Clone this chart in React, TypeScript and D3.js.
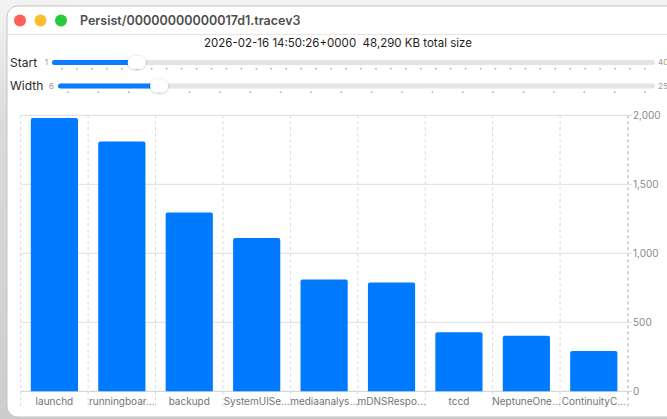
import React from "react";
import * as d3 from "d3";

const categories = [
  "launchd",
  "runningboar…",
  "backupd",
  "SystemUISe…",
  "mediaanalys…",
  "mDNSRespo…",
  "tccd",
  "NeptuneOne…",
  "ContinuityC…",
];
const sizes = [1980, 1810, 1295, 1110, 810, 788, 427, 402, 292];
const yTicks = [0, 500, 1000, 1500, 2000];

const windowTitle = "Persist/00000000000017d1.tracev3";
const subtitle = "2026-02-16 14:50:26+0000  48,290 KB total size";
const startRange = [1, 40];
const widthRange = [6, 25];
const startValue = 6;
const widthValue = 9;

const W = 667;
const H = 419;
const FONT = "Inter, 'Noto Sans', sans-serif";

function Slider({ label, y, domain, value }: { label: string; y: number; domain: number[]; value: number }) {
  const trackX0 = label === "Start" ? 52 : 58;
  const trackX1 = 655;
  const s = d3.scaleLinear().domain(domain).range([trackX0 + 10, trackX1 - 10]);
  const ticks = d3.range(domain[0], domain[1] + 1);
  const kx = s(value);
  return (
    <g>
      <text x={10} y={y} dy="0.35em" fontSize={12} fill="#2a2a2a">{label}</text>
      <text x={trackX0 - 4} y={y} dy="0.35em" fontSize={8} fill="#9a9a9a" textAnchor="end">{domain[0]}</text>
      <text x={trackX1 + 3} y={y} dy="0.35em" fontSize={8} fill="#9a9a9a">{domain[1]}</text>
      <rect x={trackX0} y={y - 2.5} width={trackX1 - trackX0} height={5} rx={2.5} fill="#e4e4e4" />
      <rect x={trackX0} y={y - 2.5} width={kx - trackX0} height={5} rx={2.5} fill="#0a7cff" />
      {ticks.map((t) => (
        <rect key={t} x={s(t) - 0.75} y={y + 5.5} width={1.5} height={1.5} fill="#a8a8a8" />
      ))}
      <rect x={kx - 9} y={y - 6.5} width={18} height={13} rx={6.5} fill="#ffffff" filter="url(#knobShadow)" />
    </g>
  );
}

export default function App() {
  const x = d3.scaleBand<string>().domain(categories).range([20.7, 627.5]).paddingInner(0.3).paddingOuter(0.15);
  const y = d3.scaleLinear().domain([0, 2000]).range([391.3, 115.3]);
  const step = x.step();
  const plotTop = y(2000);
  const plotBottom = y(0);
  const sepXs = d3.range(categories.length + 1).map((i) => 20.7 + i * step);
  const fmt = d3.format(",");

  return (
    <div style={{ position: "fixed", left: 0, top: 0, width: W, height: H }}>
      <svg width={W} height={H} fontFamily={FONT} style={{ display: "block" }}>
        <defs>
          <linearGradient id="bg" x1="0" y1="0" x2="0" y2="1">
            <stop offset="0" stopColor="#f3f3f3" />
            <stop offset="0.3" stopColor="#dadada" />
            <stop offset="1" stopColor="#cdcdcd" />
          </linearGradient>
          <filter id="knobShadow" x="-50%" y="-50%" width="200%" height="200%">
            <feDropShadow dx="0" dy="0.5" stdDeviation="1" floodColor="#000" floodOpacity="0.3" />
          </filter>
        </defs>
        <rect width={W} height={H} fill="url(#bg)" />
        {/* window */}
        <rect x={7} y={6} width={W + 20} height={411} rx={11} fill="#ffffff" stroke="#c4c4c4" strokeWidth={1} />
        <line x1={7.5} x2={W} y1={34.5} y2={34.5} stroke="#e6e6e6" />
        <circle cx={20} cy={20.5} r={6} fill="#ff5f57" />
        <circle cx={40.5} cy={20.5} r={6} fill="#febc2e" />
        <circle cx={61} cy={20.5} r={6} fill="#28c840" />
        <text x={80} y={20.5} dy="0.35em" fontSize={12.5} fontWeight={600} fill="#4d4d4d">{windowTitle}</text>
        <text x={338} y={43} dy="0.35em" fontSize={11.5} fill="#1e1e1e" textAnchor="middle" style={{ whiteSpace: "pre" }}>{subtitle}</text>

        <Slider label="Start" y={62.5} domain={startRange} value={startValue} />
        <Slider label="Width" y={86} domain={widthRange} value={widthValue} />

        {/* grid */}
        {yTicks.map((t) => (
          <g key={t}>
            <line x1={20.7} x2={632} y1={y(t)} y2={y(t)} stroke={t === 0 ? "#cfcfcf" : "#dedede"} />
            <text x={633} y={y(t)} dy="0.35em" fontSize={10} fill="#8a8a8a">{fmt(t)}</text>
          </g>
        ))}
        {sepXs.map((sx, i) => (
          <line key={i} x1={sx} x2={sx} y1={plotTop} y2={408} stroke="#d8d8d8" strokeDasharray="3,3" />
        ))}
        <line x1={628.5} x2={628.5} y1={plotTop} y2={408} stroke="#d0d0d0" strokeDasharray="3,3" />

        {categories.map((c, i) => (
          <g key={c}>
            <path
              d={`M${x(c)},${plotBottom}V${y(sizes[i]) + 2}q0,-2 2,-2H${x(c)! + x.bandwidth() - 2}q2,0 2,2V${plotBottom}Z`}
              fill="#007aff"
            />
            <text x={x(c)! + x.bandwidth() / 2} y={401} dy="0.35em" fontSize={10} fill="#737373" textAnchor="middle">{c}</text>
          </g>
        ))}
      </svg>
    </div>
  );
}
